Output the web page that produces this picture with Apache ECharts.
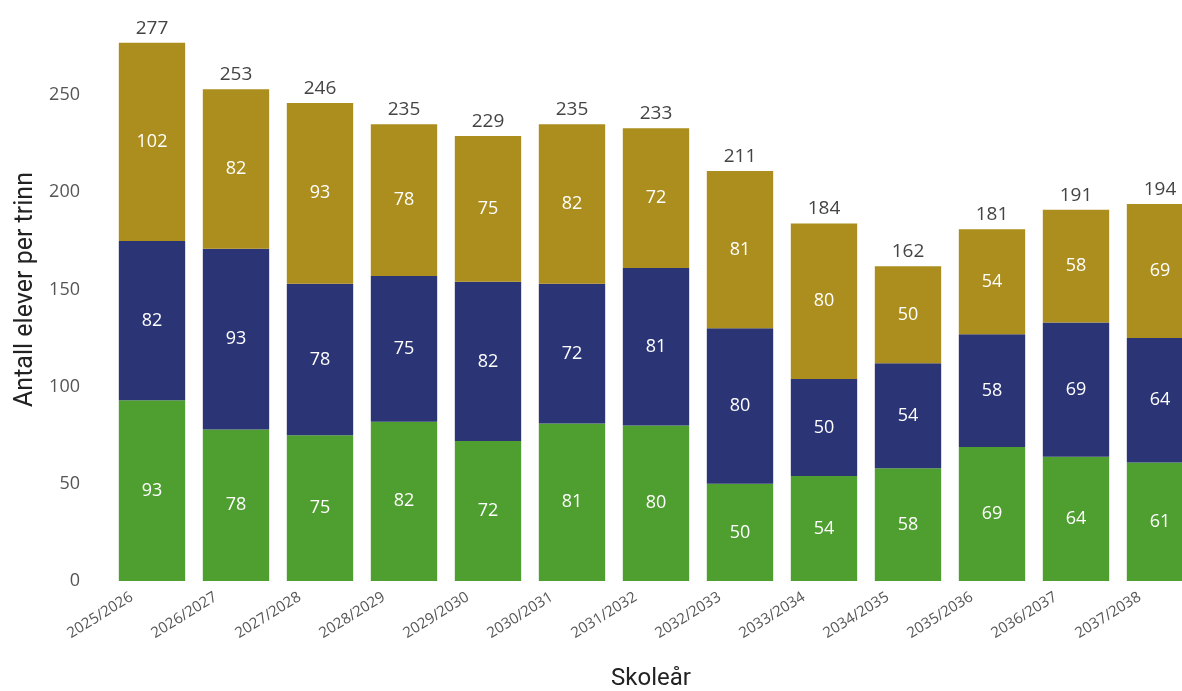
<!DOCTYPE html>
<html>
<head>
<meta charset="utf-8">
<script src="https://cdn.jsdelivr.net/npm/echarts@6/dist/echarts.min.js"></script>
<style>
  html, body { margin: 0; padding: 0; background: #fff; }
  #chart { width: 1182px; height: 691px; }
</style>
</head>
<body>
<div id="chart"></div>
<script>
const years = ["2025/2026", "2026/2027", "2027/2028", "2028/2029", "2029/2030", "2030/2031",
  "2031/2032", "2032/2033", "2033/2034", "2034/2035", "2035/2036", "2036/2037", "2037/2038"];
const bottomValues = [93, 78, 75, 82, 72, 81, 80, 50, 54, 58, 69, 64, 61];
const middleValues = [82, 93, 78, 75, 82, 72, 81, 80, 50, 54, 58, 69, 64];
const topValues = [102, 82, 93, 78, 75, 82, 72, 81, 80, 50, 54, 58, 69];
const totals = [277, 253, 246, 235, 229, 235, 233, 211, 184, 162, 181, 191, 194];
const yTicks = [0, 50, 100, 150, 200, 250];

const myChart = echarts.init(document.getElementById("chart"));

const innerLabel = {
  show: true,
  position: "inside",
  color: "#fff",
  fontSize: 18,
  fontFamily: "Open Sans",
};

const option = {
  animation: false,
  grid: {
    top: -2,
    left: 110,
    right: -20,
    bottom: 110,
    outerBoundsMode: "none",
    containLabel: false,
  },
  xAxis: {
    type: "category",
    data: years,
    axisLine: { show: false },
    axisTick: { show: false },
    axisLabel: {
      rotate: 32,
      color: "#555",
      fontSize: 15,
      fontFamily: "Open Sans",
      margin: 2,
      padding: [0, 24, 0, 0],
    },
    name: "Skoleår",
    nameLocation: "middle",
    nameGap: 86,
    nameTextStyle: {
      color: "#222",
      fontSize: 24,
      fontFamily: "Roboto",
      padding: [0, 10, 0, 0],
    },
  },
  yAxis: {
    type: "value",
    min: 0,
    max: 300,
    interval: 50,
    splitLine: { show: false },
    axisLine: { show: false },
    axisTick: { show: false },
    axisLabel: {
      color: "#555",
      fontSize: 18,
      fontFamily: "Open Sans",
      margin: 30,
      formatter: (v) => (yTicks.includes(v) ? String(v) : ""),
    },
    name: "Antall elever per trinn",
    nameLocation: "middle",
    nameGap: 72,
    nameTextStyle: {
      color: "#222",
      fontSize: 25,
      fontFamily: "Roboto",
    },
  },
  series: [
    {
      type: "bar",
      stack: "total",
      data: bottomValues,
      barCategoryGap: "21%",
      itemStyle: { color: "#4E9E30" },
      label: innerLabel,
    },
    {
      type: "bar",
      stack: "total",
      data: middleValues,
      itemStyle: { color: "#2B3575" },
      label: innerLabel,
    },
    {
      type: "bar",
      stack: "total",
      data: topValues,
      itemStyle: { color: "#AC8E1E" },
      label: innerLabel,
    },
    {
      // zero-height bar on top, only to carry the total label
      type: "bar",
      stack: "total",
      data: totals.map(() => 0),
      itemStyle: { color: "transparent" },
      label: {
        show: true,
        position: "top",
        distance: 5,
        color: "#444",
        fontSize: 19,
        fontFamily: "Open Sans",
        formatter: (p) => String(totals[p.dataIndex]),
      },
    },
  ],
};

option && myChart.setOption(option);
</script>
</body>
</html>
